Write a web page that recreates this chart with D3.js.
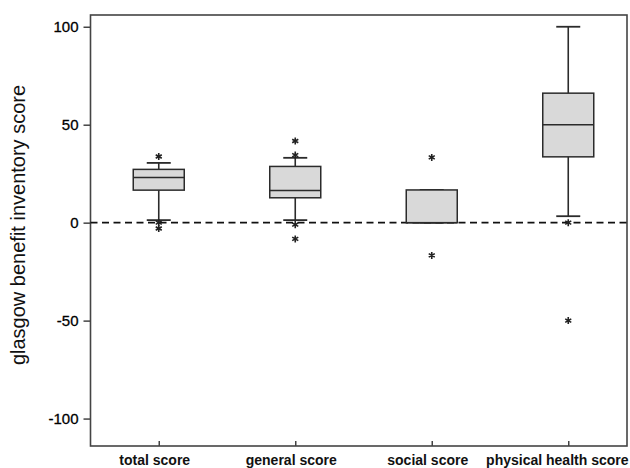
<!DOCTYPE html>
<html>
<head>
<meta charset="utf-8">
<script src="https://cdn.jsdelivr.net/npm/d3@7"></script>
<style>
  html, body { margin: 0; padding: 0; background: #fff; }
  svg { display: block; font-family: "Liberation Sans", Arial, sans-serif; }
</style>
</head>
<body>
<svg id="chart" width="630" height="468"></svg>
<script>
// ---- data ----
const categories = ["total score", "general score", "social score", "physical health score"];
const q1 = [16.6, 12.7, 0, 33.6];
const median = [23.1, 16.4, 0, 50];
const q3 = [27.2, 28.7, 16.7, 66.1];
const whiskerLow = [1.3, 1.3, 0, 3.3];
const whiskerHigh = [30.5, 33.1, 16.7, 100];
const outliers = [[33.8, 0, -3], [41.7, 34.5, -1, -8.3], [33.3, -16.7], [0, -50]];
const yTicks = [-100, -50, 0, 50, 100];
const yTitle = "glasgow benefit inventory score";

(function () {
// ---- layout ----
const W = 630, H = 468;
const pLeft = 90.5, pRight = 627, pTop = 15, pBottom = 446;

const svg = d3.select("#chart");

const y = d3.scaleLinear().domain([-114, 106]).range([pBottom, pTop]);
const x = d3.scalePoint().domain(categories).range([pLeft, 636.5]).padding(0.5);

const boxW = 51, capW = 24;
const ink = "#2b2b2b";

// frame
svg.append("rect")
  .attr("x", pLeft).attr("y", pTop)
  .attr("width", pRight - pLeft).attr("height", pBottom - pTop)
  .attr("fill", "none").attr("stroke", "#444").attr("stroke-width", 1.6);

// y axis
const yAxis = svg.append("g")
  .attr("transform", `translate(${pLeft},0)`)
  .call(d3.axisLeft(y).tickValues(yTicks).tickSize(7).tickPadding(5).tickFormat(d => String(d)));
yAxis.select(".domain").remove();
yAxis.selectAll(".tick line").attr("stroke", "#444").attr("stroke-width", 1.5);
yAxis.selectAll(".tick text").attr("font-size", 15).attr("fill", "#000")
  .attr("stroke", "#000").attr("stroke-width", 0.3)
  .attr("font-family", '"Liberation Sans", Arial, sans-serif');

// x axis
const xAxis = svg.append("g")
  .attr("transform", `translate(0,${pBottom})`)
  .call(d3.axisBottom(x).tickSizeInner(-5).tickSizeOuter(0).tickPadding(9));
xAxis.select(".domain").remove();
xAxis.selectAll(".tick line").attr("stroke", "#444").attr("stroke-width", 1.5);
xAxis.selectAll(".tick text").attr("font-size", 14).attr("fill", "#111")
  .attr("font-weight", "bold")
  .attr("font-family", '"Liberation Sans", Arial, sans-serif')
  .attr("dx", -4.5)
  .each(function(d) {
    const len = this.getComputedTextLength();
    const cx = x(d) - 4.5;
    if (cx + len / 2 > W - 2) {
      d3.select(this).attr("dx", (W - 2 - len / 2) - x(d));
    }
  });

// y title
svg.append("text")
  .attr("transform", `translate(25,225) rotate(-90)`)
  .attr("text-anchor", "middle")
  .attr("font-size", 20)
  .attr("fill", "#111")
  .text(yTitle);

// zero reference line
svg.append("line")
  .attr("x1", pLeft).attr("x2", pRight)
  .attr("y1", y(0)).attr("y2", y(0))
  .attr("stroke", "#111").attr("stroke-width", 1.6)
  .attr("stroke-dasharray", "7,4.5");

// boxes
const boxes = svg.append("g").selectAll("g").data(categories).join("g");

boxes.append("line")
  .attr("x1", d => x(d)).attr("x2", d => x(d))
  .attr("y1", (d, i) => y(whiskerHigh[i])).attr("y2", (d, i) => y(q3[i]))
  .attr("stroke", ink).attr("stroke-width", 1.6);
boxes.append("line")
  .attr("x1", d => x(d)).attr("x2", d => x(d))
  .attr("y1", (d, i) => y(q1[i])).attr("y2", (d, i) => y(whiskerLow[i]))
  .attr("stroke", ink).attr("stroke-width", 1.6);
boxes.append("line")
  .attr("x1", d => x(d) - capW / 2).attr("x2", d => x(d) + capW / 2)
  .attr("y1", (d, i) => y(whiskerHigh[i])).attr("y2", (d, i) => y(whiskerHigh[i]))
  .attr("stroke", ink).attr("stroke-width", 1.8);
boxes.append("line")
  .attr("x1", d => x(d) - capW / 2).attr("x2", d => x(d) + capW / 2)
  .attr("y1", (d, i) => y(whiskerLow[i])).attr("y2", (d, i) => y(whiskerLow[i]))
  .attr("stroke", ink).attr("stroke-width", 1.8);
boxes.append("rect")
  .attr("x", d => x(d) - boxW / 2)
  .attr("y", (d, i) => y(q3[i]))
  .attr("width", boxW)
  .attr("height", (d, i) => y(q1[i]) - y(q3[i]))
  .attr("fill", "#d9d9d9").attr("stroke", ink).attr("stroke-width", 1.5);
boxes.append("line")
  .attr("x1", d => x(d) - boxW / 2).attr("x2", d => x(d) + boxW / 2)
  .attr("y1", (d, i) => y(median[i])).attr("y2", (d, i) => y(median[i]))
  .attr("stroke", ink).attr("stroke-width", 1.5);

// outliers
const star = d3.symbol().type(d3.symbolAsterisk).size(34);
boxes.each(function(d, i) {
  d3.select(this).selectAll("path.out").data(outliers[i]).join("path")
    .attr("class", "out")
    .attr("transform", v => `translate(${x(d)},${y(v)})`)
    .attr("d", star)
    .attr("fill", "none").attr("stroke", "#222").attr("stroke-width", 1.6);
});
})();
</script>
</body>
</html>
